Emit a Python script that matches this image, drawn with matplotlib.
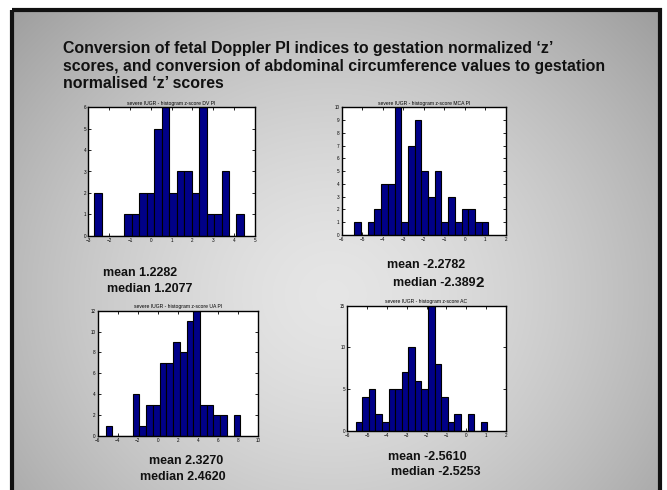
import numpy as np
import matplotlib
matplotlib.use("Agg")
import matplotlib.pyplot as plt
from matplotlib.patches import Rectangle

plt.rcParams['font.family'] = ['Liberation Sans', 'DejaVu Sans']

# ---------------- data ----------------
title_lines = ["Conversion of fetal Doppler PI indices to gestation normalized \u2018z\u2019",
               "scores, and conversion of abdominal circumference values to gestation",
               "normalised \u2018z\u2019 scores"]

dv_title = "severe IUGR - histogram z-score DV PI"
dv_range = (-2.708, 4.47)
dv_counts = [2, 0, 0, 0, 1, 1, 2, 2, 5, 6, 2, 3, 3, 2, 6, 1, 1, 3, 0, 1]
dv_xticks = [-3, -2, -1, 0, 1, 2, 3, 4, 5]
dv_yticks = [0, 1, 2, 3, 4, 5, 6]

mca_title = "severe IUGR - histogram z-score MCA PI"
mca_range = (-5.382, 1.154)
mca_counts = [1, 0, 1, 2, 4, 4, 10, 1, 7, 9, 5, 3, 5, 1, 3, 1, 2, 2, 1, 1]
mca_xticks = [-6, -5, -4, -3, -2, -1, 0, 1, 2]
mca_yticks = [0, 1, 2, 3, 4, 5, 6, 7, 8, 9, 10]

ua_title = "severe IUGR - histogram z-score UA PI"
ua_range = (-5.2, 8.27)
ua_counts = [1, 0, 0, 0, 4, 1, 3, 3, 7, 7, 9, 8, 11, 12, 3, 3, 2, 2, 0, 2]
ua_xticks = [-6, -4, -2, 0, 2, 4, 6, 8, 10]
ua_yticks = [0, 2, 4, 6, 8, 10, 12]

ac_title = "severe IUGR - histogram z-score AC"
ac_range = (-5.58, 1.07)
ac_counts = [1, 4, 5, 2, 1, 5, 5, 7, 10, 6, 5, 15, 8, 4, 1, 2, 0, 2, 0, 1]
ac_xticks = [-6, -5, -4, -3, -2, -1, 0, 1, 2]
ac_yticks = [0, 5, 10, 15]

stats_dv = ("mean 1.2282", "median 1.2077")
stats_mca = ("mean -2.2782", "median -2.389", "2")
stats_ua = ("mean 2.3270", "median 2.4620")
stats_ac = ("mean -2.5610", "median -2.5253")

# ---------------- figure ----------------
W, H = 667, 490
fig = plt.figure(figsize=(W / 100, H / 100), dpi=100)
fig.patch.set_facecolor('white')

# background slide with radial gradient
bg = fig.add_axes([0, 0, 1, 1])
bg.axis('off')
yy, xx = np.mgrid[0:H, 0:W]
r = np.sqrt(((xx - 330) / 330.0) ** 2 + ((yy - 290) / 300.0) ** 2)
val = 0.90 - 0.28 * np.clip(r, 0, 1.4) ** 1.5 / 1.4 ** 1.5
img = np.dstack([val, val, val])
bg.imshow(img, extent=[13, 658, H, 12], aspect='auto', zorder=0)
bg.add_patch(Rectangle((11.5, 10.5), 648, 490, fill=False, edgecolor='#111111',
                       linewidth=3, zorder=2))
bg.set_xlim(0, W)
bg.set_ylim(H, 0)

for i, line in enumerate(title_lines):
    bg.text(63, 48 + 18 * i, line, fontsize=11.4, fontweight='bold', color='#111111',
            va='center', ha='left', zorder=3)


def hist_axes(rect, rng, counts, xticks, yticks, title):
    ax = fig.add_axes(rect)
    ax.set_facecolor('white')
    edges = np.linspace(rng[0], rng[1], len(counts) + 1)
    width = edges[1] - edges[0]
    ax.bar(edges[:-1], counts, width=width, align='edge', color='#000088',
           edgecolor='black', linewidth=0.8, zorder=2)
    ax.set_xlim(xticks[0], xticks[-1])
    ax.set_ylim(yticks[0], yticks[-1])
    ax.set_xticks(xticks)
    ax.set_yticks(yticks)
    ax.tick_params(direction='in', length=2, width=0.6, labelsize=3.3, pad=1.5,
                   top=True, right=True)
    for s in ax.spines.values():
        s.set_linewidth(1.0)
    ax.set_title(title, fontsize=3.6, pad=2)
    return ax


hist_axes([0.1324, 0.519, 0.2499, 0.262], dv_range, dv_counts, dv_xticks, dv_yticks, dv_title)
hist_axes([0.5123, 0.5204, 0.2459, 0.2606], mca_range, mca_counts, mca_xticks, mca_yticks, mca_title)
hist_axes([0.1465, 0.1102, 0.2399, 0.2557], ua_range, ua_counts, ua_xticks, ua_yticks, ua_title)
hist_axes([0.5207, 0.121, 0.2375, 0.2551], ac_range, ac_counts, ac_xticks, ac_yticks, ac_title)

txt_kw = dict(fontsize=9, fontweight='bold', color='#111111', ha='left', va='center', zorder=3)
bg.text(103, 273, stats_dv[0], **txt_kw)
bg.text(107, 289, stats_dv[1], **txt_kw)
bg.text(387, 265, stats_mca[0], **txt_kw)
t = bg.text(393, 283, stats_mca[1], **txt_kw)
fig.canvas.draw()
bb = t.get_window_extent()
x_end = bb.x1
bg.text(x_end, 283, stats_mca[2], fontsize=11, fontweight='bold', color='#111111',
        ha='left', va='center', zorder=3,
        transform=matplotlib.transforms.blended_transform_factory(
            matplotlib.transforms.IdentityTransform(), bg.transData))
bg.text(149, 461, stats_ua[0], **txt_kw)
bg.text(140, 477, stats_ua[1], **txt_kw)
bg.text(388, 457, stats_ac[0], **txt_kw)
bg.text(391, 472, stats_ac[1], **txt_kw)

fig.savefig('out.png', dpi=100, facecolor=fig.get_facecolor())
